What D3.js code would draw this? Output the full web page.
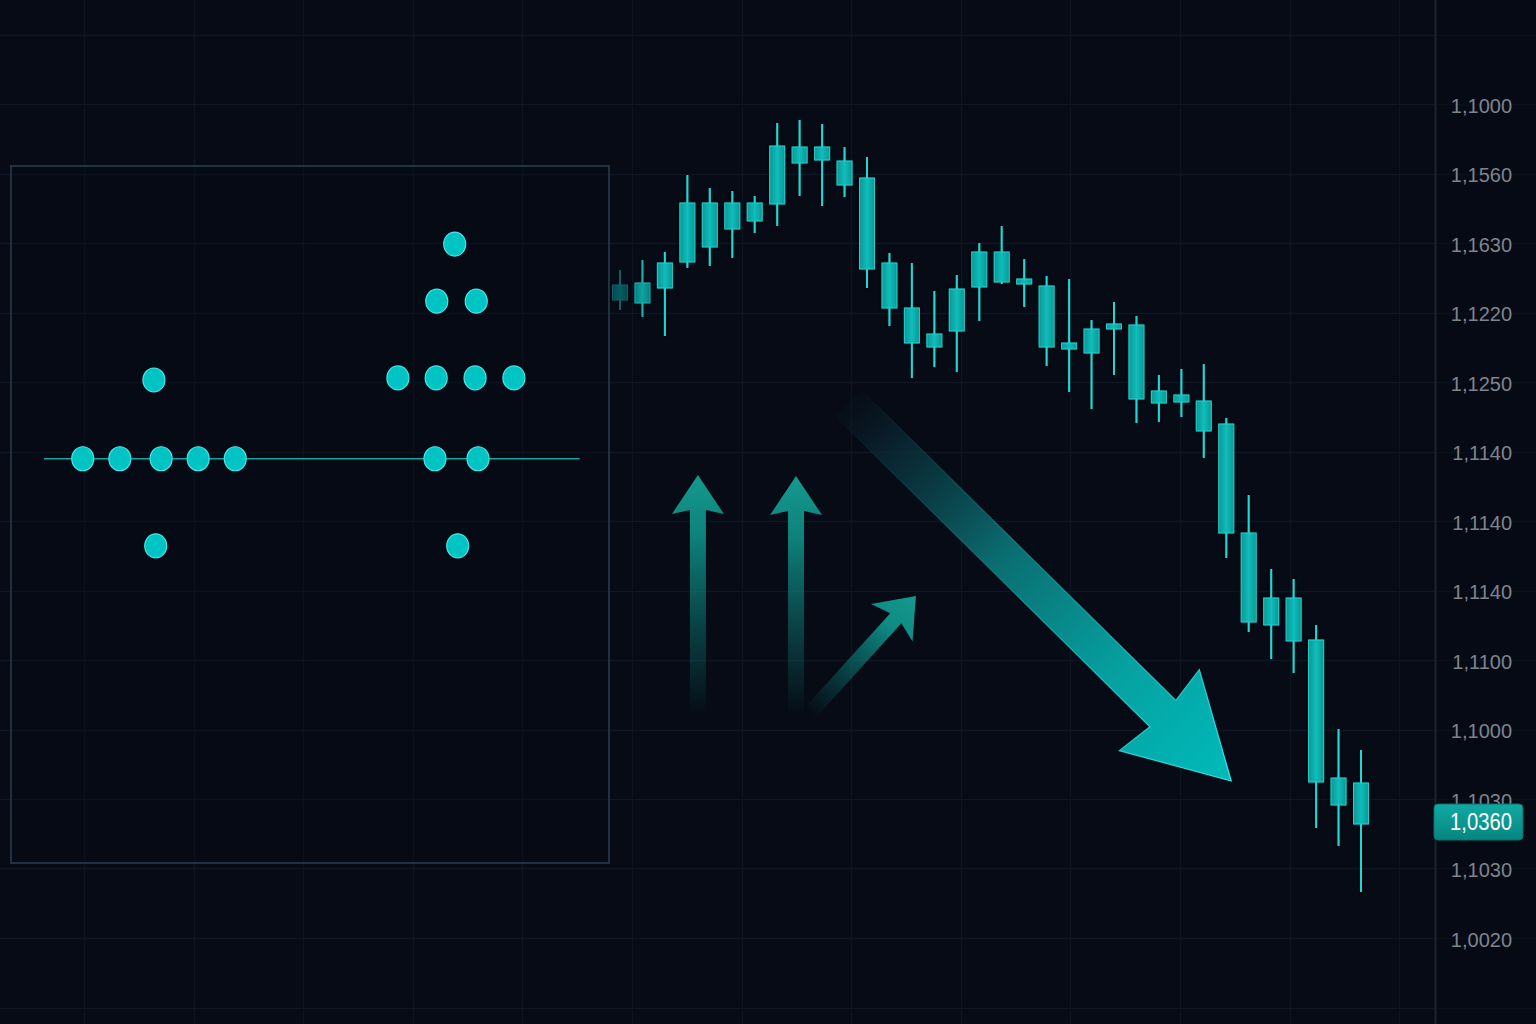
<!DOCTYPE html>
<html><head><meta charset="utf-8">
<script src="https://cdn.jsdelivr.net/npm/d3@7"></script>
<style>html,body{margin:0;padding:0;background:#060b15;overflow:hidden}</style>
</head><body>
<svg id="chart" width="1536" height="1024"></svg>
<script>
// ---------- DATA ----------
const candleIndex = d3.range(34);
const opens  = [1.1400,1.1394,1.1424,1.1476,1.1506,1.1542,1.1558,1.1592,1.1706,1.1706,1.1678,1.1644,1.1474,1.1384,1.1332,1.1338,1.1426,1.1496,1.1442,1.1428,1.1314,1.1294,1.1352,1.1350,1.1218,1.1210,1.1198,1.1152,1.0934,1.0804,1.0804,1.0720,1.0444,1.0434];
const closes = [1.1430,1.1434,1.1474,1.1594,1.1594,1.1594,1.1594,1.1708,1.1674,1.1680,1.1630,1.1462,1.1384,1.1314,1.1306,1.1422,1.1496,1.1436,1.1432,1.1306,1.1302,1.1342,1.1342,1.1202,1.1194,1.1196,1.1138,1.0934,1.0756,1.0750,1.0718,1.0436,1.0390,1.0352];
const highs  = [1.1460,1.1480,1.1496,1.1650,1.1624,1.1618,1.1608,1.1754,1.1760,1.1752,1.1706,1.1686,1.1494,1.1474,1.1418,1.1450,1.1514,1.1548,1.1482,1.1448,1.1442,1.1360,1.1396,1.1368,1.1250,1.1262,1.1272,1.1164,1.1010,1.0862,1.0842,1.0750,1.0542,1.0500];
const lows   = [1.1380,1.1366,1.1328,1.1464,1.1468,1.1484,1.1534,1.1548,1.1608,1.1588,1.1606,1.1424,1.1348,1.1244,1.1266,1.1256,1.1358,1.1432,1.1386,1.1268,1.1216,1.1182,1.1250,1.1154,1.1156,1.1166,1.1084,1.0884,1.0736,1.0682,1.0654,1.0344,1.0308,1.0216];
const tickLabels = ["1,1000","1,1560","1,1630","1,1220","1,1250","1,1140","1,1140","1,1140","1,1100","1,1000","1,1030","1,1030","1,0020"];
const lastPriceLabel = "1,0360";

// dot plot inside the framed panel (value units 0..10)
const dotX = [1.20,1.82,2.51,3.13,3.75,2.39,2.42, 7.42,7.12,7.78,6.47,7.11,7.76,8.41,7.09,7.81,7.47];
const dotY = [5.80,5.80,5.80,5.80,5.80,6.93,4.55, 8.88,8.06,8.06,6.96,6.96,6.96,6.96,5.80,5.80,4.55];
const baselineValue = 5.80;
const baselineFrom = 0.55, baselineTo = 9.51;

// annotation arrows in chart units (candle index, price)
const upArrowIdx   = [3.47, 7.84];
const upArrowFrom  = [1.0570, 1.0570];
const upArrowTo    = [1.1050, 1.1048];
const diagArrowIdx = [8.46, 13.18];
const diagArrowPx  = [1.0574, 1.0808];
const trendArrowIdx = [10.16, 27.22];
const trendArrowPx  = [1.1194, 1.0438];

// ---------- SCALES ----------
const W = 1536, H = 1024;
const svg = d3.select('#chart');
const x = d3.scaleLinear().domain([0, 33]).range([620, 1361]);
const y = d3.scaleLinear().domain([1.0, 1.2]).range([1000, 0]);
const row = d3.scaleLinear().domain([0, 12]).range([104, 938]);
const col = d3.scaleLinear().domain([0, 12]).range([84, 1399.2]);
const bx = d3.scaleLinear().domain([0, 10]).range([11, 609]);
const by = d3.scaleLinear().domain([0, 10]).range([863, 166]);

const defs = svg.append('defs');
svg.append('rect').attr('width', W).attr('height', H).attr('fill', '#060b15');

// ---------- GRID ----------
svg.append('g').selectAll('line').data(d3.range(-1, 14)).join('line')
  .attr('x1', 0).attr('x2', W).attr('y1', d => Math.round(row(d)) + 0.5).attr('y2', d => Math.round(row(d)) + 0.5)
  .attr('stroke', '#0f1724').attr('stroke-width', 1.5);
svg.append('g').selectAll('line').data(d3.range(0, 13)).join('line')
  .attr('y1', 0).attr('y2', H).attr('x1', d => Math.round(col(d)) + 0.5).attr('x2', d => Math.round(col(d)) + 0.5)
  .attr('stroke', '#0d1521').attr('stroke-width', 1.5);

// ---------- FRAMED PANEL ----------
svg.append('rect').attr('x', bx(0)).attr('y', by(10)).attr('width', bx(10) - bx(0)).attr('height', by(0) - by(10))
  .attr('fill', 'rgba(5,10,20,0.35)').attr('stroke', '#22313f').attr('stroke-width', 2);

svg.append('line').attr('x1', bx(baselineFrom)).attr('x2', bx(baselineTo))
  .attr('y1', by(baselineValue)).attr('y2', by(baselineValue))
  .attr('stroke', '#0fa6a2').attr('stroke-width', 1.5);

svg.append('g').selectAll('ellipse').data(dotX).join('ellipse')
  .attr('cx', (d) => bx(d)).attr('cy', (d, i) => by(dotY[i]))
  .attr('rx', 11).attr('ry', 12)
  .attr('fill', '#00c3c3').attr('stroke', '#45e8e8').attr('stroke-width', 1.2);

// ---------- ARROWS ----------
function arrowPath(sx, sy, tx, ty, shaftHalf, headLen, notchLen, headHalf) {
  const dx = tx - sx, dy = ty - sy, L = Math.hypot(dx, dy), ux = dx / L, uy = dy / L, nx = -uy, ny = ux;
  const hx = tx - ux * headLen, hy = ty - uy * headLen;
  const kx = tx - ux * notchLen, ky = ty - uy * notchLen;
  return d3.line()([
    [sx + nx * shaftHalf, sy + ny * shaftHalf],
    [kx + nx * shaftHalf, ky + ny * shaftHalf],
    [hx + nx * headHalf, hy + ny * headHalf],
    [tx, ty],
    [hx - nx * headHalf, hy - ny * headHalf],
    [kx - nx * shaftHalf, ky - ny * shaftHalf],
    [sx - nx * shaftHalf, sy - ny * shaftHalf]]) + 'Z';
}
function grad(id, x1, y1, x2, y2, stops) {
  const g = defs.append('linearGradient').attr('id', id).attr('gradientUnits', 'userSpaceOnUse')
    .attr('x1', x1).attr('y1', y1).attr('x2', x2).attr('y2', y2);
  stops.forEach(s => g.append('stop').attr('offset', s[0]).attr('stop-color', s[1]).attr('stop-opacity', s[2]));
}

upArrowIdx.forEach((ix, i) => {
  const sx = x(ix), sy = y(upArrowFrom[i]), tx = x(ix), ty = y(upArrowTo[i]);
  grad('upg' + i, sx, sy, tx, ty, [[0, '#0c7d77', 0], [0.35, '#0d8079', 0.45], [0.75, '#0f9087', 0.9], [1, '#14998e', 1]]);
  svg.append('path').attr('d', arrowPath(sx, sy, tx, ty, 8, 39, 35, 26)).attr('fill', `url(#upg${i})`);
});

{
  const sx = x(diagArrowIdx[0]), sy = y(diagArrowPx[0]), tx = x(diagArrowIdx[1]), ty = y(diagArrowPx[1]);
  grad('dg', sx, sy, tx, ty, [[0, '#0c6f6c', 0], [0.4, '#0d7d78', 0.55], [0.75, '#10928a', 0.95], [1, '#14998e', 1]]);
  svg.append('path').attr('d', arrowPath(sx, sy, tx, ty, 7.5, 36, 30, 28)).attr('fill', 'url(#dg)');
}

{
  const sx = x(trendArrowIdx[0]), sy = y(trendArrowPx[0]), tx = x(trendArrowIdx[1]), ty = y(trendArrowPx[1]);
  grad('tg', sx, sy, tx, ty, [[0, '#0a1e2a', 0.15], [0.12, '#0b2c38', 0.75], [0.4, '#0a6d70', 1], [0.72, '#06a2a2', 1], [1, '#00baba', 1]]);
  grad('tgs', sx, sy, tx, ty, [[0, '#2fd6d6', 0], [0.4, '#2fd6d6', 0.3], [1, '#3fe6e6', 1]]);
  svg.append('path').attr('d', arrowPath(sx, sy, tx, ty, 18.5, 101, 96, 57))
    .attr('fill', 'url(#tg)').attr('stroke', 'url(#tgs)').attr('stroke-width', 1.2).attr('stroke-linejoin', 'miter');
}

// ---------- CANDLES ----------
const bodyGrad = defs.append('linearGradient').attr('id', 'bodyg').attr('x1', 0).attr('x2', 1).attr('y1', 0).attr('y2', 0);
[[0, '#079794'], [0.5, '#12bdbb'], [1, '#079794']].forEach(s => bodyGrad.append('stop').attr('offset', s[0]).attr('stop-color', s[1]));
const shadow = defs.append('filter').attr('id', 'sh').attr('x', '-50%').attr('y', '-10%').attr('width', '200%').attr('height', '120%');
shadow.append('feDropShadow').attr('dx', 0).attr('dy', 0).attr('stdDeviation', 1.6).attr('flood-color', '#000').attr('flood-opacity', 0.95);

const bodyW = 15;
const cg = svg.append('g').attr('filter', 'url(#sh)');
const cs = cg.selectAll('g').data(candleIndex).join('g')
  .attr('opacity', d => Math.max(0.35, Math.min(1, (x(d) - 600) / 55)));
cs.append('line').attr('x1', d => x(d)).attr('x2', d => x(d))
  .attr('y1', d => y(highs[d])).attr('y2', d => y(lows[d]))
  .attr('stroke', '#1fd8d8').attr('stroke-width', 2);
cs.append('rect').attr('x', d => x(d) - bodyW / 2).attr('width', bodyW)
  .attr('y', d => y(Math.max(opens[d], closes[d])))
  .attr('height', d => Math.max(4, Math.abs(y(opens[d]) - y(closes[d]))))
  .attr('fill', 'url(#bodyg)').attr('stroke', '#22d0d0').attr('stroke-width', 1);

// ---------- PRICE AXIS ----------
svg.append('rect').attr('x', 1436).attr('y', 0).attr('width', 100).attr('height', H).attr('fill', '#060b15').attr('opacity', 0.55);
svg.append('line').attr('x1', 1435.5).attr('x2', 1435.5).attr('y1', 0).attr('y2', H).attr('stroke', '#1a2431').attr('stroke-width', 2);

const axis = d3.axisRight(row).tickValues(d3.range(13)).tickFormat(i => tickLabels[i]).tickSize(0).tickPadding(0);
const ag = svg.append('g').attr('transform', 'translate(1435,2)').call(axis);
ag.select('.domain').remove();
ag.selectAll('text').attr('x', 77).attr('text-anchor', 'end')
  .style('font-family', '"Liberation Sans", Arial, sans-serif').style('font-size', '20px').attr('fill', '#7f848d');

const lg = defs.append('linearGradient').attr('id', 'lbl').attr('x1', 0).attr('x2', 0).attr('y1', 0).attr('y2', 1);
[[0, '#10aaa3'], [1, '#07857f']].forEach(s => lg.append('stop').attr('offset', s[0]).attr('stop-color', s[1]));
const lastY = y(closes[closes.length - 1]);
svg.append('rect').attr('x', 1434).attr('y', lastY - 20).attr('width', 89).attr('height', 36).attr('rx', 4)
  .attr('fill', 'url(#lbl)').attr('stroke', '#0c6f6a').attr('stroke-width', 1);
svg.append('text').attr('x', 1512).attr('y', lastY + 6).attr('text-anchor', 'end')
  .attr('textLength', 62).attr('lengthAdjust', 'spacingAndGlyphs')
  .style('font-family', '"Liberation Sans", Arial, sans-serif').style('font-size', '23px').attr('fill', '#ffffff')
  .text(lastPriceLabel);
</script>
</body></html>
